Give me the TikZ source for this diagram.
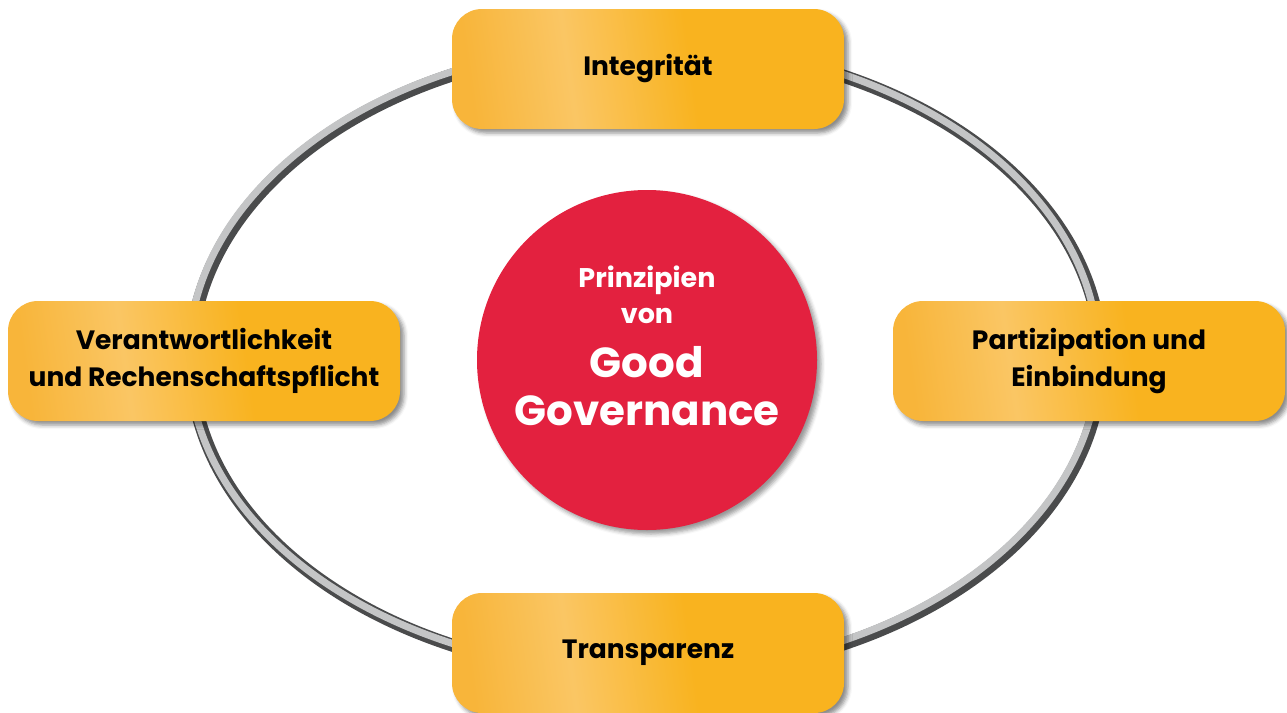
\documentclass[tikz,border=0pt]{standalone}
\usepackage{fontspec}
\setmainfont{Poppins}
\usetikzlibrary{shadows.blur}
\definecolor{boxA}{HTML}{F8B53A}
\definecolor{boxB}{HTML}{FAC664}
\definecolor{boxC}{HTML}{F9B31F}
\definecolor{ggred}{HTML}{E3213F}
\definecolor{ringdark}{HTML}{4A4B4C}
\definecolor{ringlight}{HTML}{C4C5C6}
\pgfdeclarehorizontalshading{boxshade}{100bp}{color(0bp)=(boxA); color(25bp)=(boxA); color(39bp)=(boxB); color(56bp)=(boxC); color(100bp)=(boxC)}
\tikzset{
  pbox/.style={rounded corners=30pt, minimum width=392pt, minimum height=120pt,
    shading=boxshade, shading angle=8, align=center,
    font=\fontsize{26.5}{37}\selectfont\bfseries, text=black,
    blur shadow={shadow xshift=4pt, shadow yshift=-4pt, shadow blur radius=4pt, shadow opacity=45}},
  hub/.style={circle, fill=ggred, minimum size=340pt, inner sep=0pt, align=center, text=white,
    blur shadow={shadow xshift=4pt, shadow yshift=-4pt, shadow blur radius=4pt, shadow opacity=40}},
}
\begin{document}
\begin{tikzpicture}[x=1pt, y=-1pt]
\useasboundingbox (0,0) rectangle (1287,712);
% ring
\coordinate (rc) at (646,360);
\draw[line width=13pt, ringdark] (rc) ellipse [x radius=455, y radius=315];
\draw[line width=7pt, ringlight] ([shift={(-2.5,-2.5)}]rc) ellipse [x radius=455, y radius=315];
% boxes
\node[pbox] (top) at (648,69) {Integrität};
\node[pbox] (left) at (204,361) {Verantwortlichkeit\\und Rechenschaftspflicht};
\node[pbox] (right) at (1089,361) {Partizipation und\\Einbindung};
\node[pbox] (bottom) at (648,653) {Transparenz};
% hub
\node[hub] (hubc) at (647,360) {};
\node[text=white, font=\fontsize{27}{36}\selectfont\bfseries, align=center] (t1) at (647,295) {Prinzipien\\von};
\node[text=white, font=\fontsize{42}{48}\selectfont\bfseries, align=center] (t2) at (647,386) {Good\\Governance};
\end{tikzpicture}
\end{document}
